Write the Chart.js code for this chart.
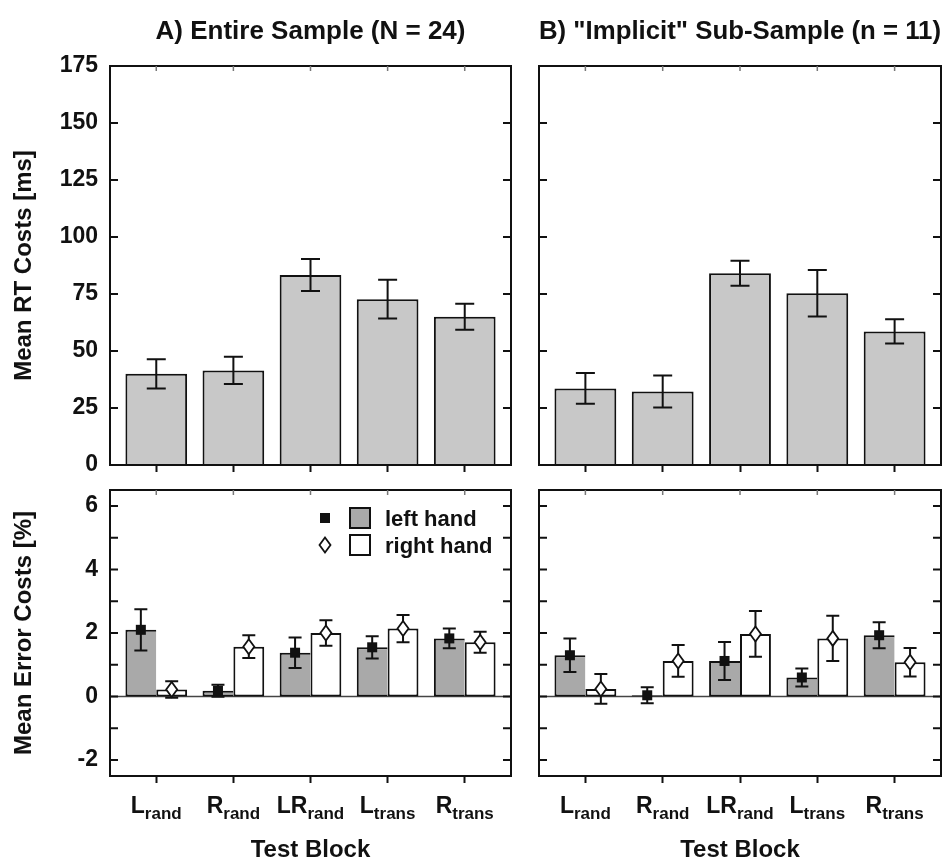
<!DOCTYPE html>
<html>
<head>
<meta charset="utf-8">
<script src="https://cdn.jsdelivr.net/npm/chart.js@4.4.0/dist/chart.umd.min.js"></script>
<style>
  body { margin: 0; background: #fff; }
  #wrap { position: relative; width: 947px; height: 866px; }
  canvas { position: absolute; }
</style>
</head>
<body>
<div id="wrap">
  <canvas id="rtA" width="525" height="480" style="left:0;top:0"></canvas>
  <canvas id="rtB" width="422" height="480" style="left:525px;top:0"></canvas>
  <canvas id="errA" width="525" height="386" style="left:0;top:480px"></canvas>
  <canvas id="errB" width="422" height="386" style="left:525px;top:480px"></canvas>
</div>
<script>
// test blocks (main letter + subscript)
const blocks = ['L', 'R', 'LR', 'L', 'R'];
const blockSubs = ['rand', 'rand', 'rand', 'trans', 'trans'];
const handNames = ['left hand', 'right hand'];
const rtTicks = [0, 25, 50, 75, 100, 125, 150, 175];
const errTicks = [-2, -1, 0, 1, 2, 3, 4, 5, 6];

// RT costs [ms] with error bar half-widths
const rtEntire = [40, 41.5, 83.3, 72.7, 65];
const rtEntireSE = [6.4, 6, 7, 8.5, 5.7];
const rtImplicit = [33.6, 32.2, 84.1, 75.3, 58.6];
const rtImplicitSE = [6.7, 7, 5.5, 10.2, 5.3];

// error costs [%]
const errEntireLeft = [2.1, 0.18, 1.38, 1.55, 1.83];
const errEntireLeftSE = [0.65, 0.19, 0.48, 0.35, 0.31];
const errEntireRight = [0.22, 1.57, 2.0, 2.14, 1.71];
const errEntireRightSE = [0.26, 0.36, 0.4, 0.43, 0.33];
const errImplicitLeft = [1.3, 0.04, 1.12, 0.6, 1.93];
const errImplicitLeftSE = [0.53, 0.25, 0.6, 0.28, 0.41];
const errImplicitRight = [0.24, 1.12, 1.97, 1.83, 1.08];
const errImplicitRightSE = [0.47, 0.5, 0.72, 0.71, 0.45];

const FONT = "'Liberation Sans', Arial, Helvetica, sans-serif";
const INK = '#111';

function drawMarker(ctx, kind, x, y) {
    ctx.save();
    if (kind === 'square') {
        ctx.fillStyle = INK;
        ctx.fillRect(x - 5, y - 5, 10, 10);
    } else if (kind === 'diamond') {
        ctx.beginPath();
        ctx.moveTo(x, y - 7.5);
        ctx.lineTo(x + 5.5, y);
        ctx.lineTo(x, y + 7.5);
        ctx.lineTo(x - 5.5, y);
        ctx.closePath();
        ctx.fillStyle = '#fff';
        ctx.fill();
        ctx.lineWidth = 1.8;
        ctx.strokeStyle = INK;
        ctx.stroke();
    }
    ctx.restore();
}

// error bars + markers on top of the bars
const errorBars = {
    id: 'errorBars',
    afterDatasetsDraw(chart, args, opts) {
        const ctx = chart.ctx, ys = chart.scales.y;
        chart.data.datasets.forEach((ds, di) => {
            const meta = chart.getDatasetMeta(di);
            meta.data.forEach((bar, i) => {
                const v = ds.data[i].y, e = ds.errors[i];
                const top = ys.getPixelForValue(v + e), bot = ys.getPixelForValue(v - e);
                const c = opts.cap / 2;
                ctx.save();
                ctx.strokeStyle = INK;
                ctx.lineWidth = 2;
                ctx.beginPath();
                ctx.moveTo(bar.x, top); ctx.lineTo(bar.x, bot);
                ctx.moveTo(bar.x - c, top); ctx.lineTo(bar.x + c, top);
                ctx.moveTo(bar.x - c, bot); ctx.lineTo(bar.x + c, bot);
                ctx.stroke();
                ctx.restore();
                if (ds.marker) drawMarker(ctx, ds.marker, bar.x, ys.getPixelForValue(v));
            });
        });
    }
};

// frame, inward ticks, zero line, subscript labels, legend
const frame = {
    id: 'frame',
    beforeDatasetsDraw(chart, args, opts) {
        if (!opts.zeroLine) return;
        const ctx = chart.ctx, a = chart.chartArea;
        const y0 = chart.scales.y.getPixelForValue(0);
        ctx.save();
        ctx.strokeStyle = '#444';
        ctx.lineWidth = 1.5;
        ctx.beginPath();
        ctx.moveTo(a.left, y0); ctx.lineTo(a.right, y0);
        ctx.stroke();
        ctx.restore();
    },
    afterDraw(chart, args, opts) {
        const ctx = chart.ctx, a = chart.chartArea;
        const xs = chart.scales.x, ys = chart.scales.y;
        ctx.save();
        ctx.strokeStyle = INK;
        ctx.lineWidth = 2;
        ctx.strokeRect(a.left, a.top, a.right - a.left, a.bottom - a.top);
        ctx.beginPath();
        ys.ticks.forEach(t => {
            const y = ys.getPixelForValue(t.value);
            ctx.moveTo(a.left, y); ctx.lineTo(a.left + 8, y);
            ctx.moveTo(a.right, y); ctx.lineTo(a.right - 8, y);
        });
        ctx.stroke();
        ctx.strokeStyle = '#777';
        ctx.lineWidth = 1.5;
        ctx.beginPath();
        xs.ticks.forEach(t => {
            const x = xs.getPixelForValue(t.value);
            ctx.moveTo(x, a.top); ctx.lineTo(x, a.top + 5);
        });
        ctx.stroke();

        if (opts.labels) {
            ctx.fillStyle = INK;
            ctx.textBaseline = 'alphabetic';
            ctx.textAlign = 'left';
            blocks.forEach((b, i) => {
                const x = xs.getPixelForValue(i);
                ctx.font = 'bold 23px ' + FONT;
                const w1 = ctx.measureText(b).width;
                ctx.font = 'bold 17px ' + FONT;
                const w2 = ctx.measureText(blockSubs[i]).width;
                const x0 = x - (w1 + w2) / 2;
                ctx.font = 'bold 23px ' + FONT;
                ctx.fillText(b, x0, a.bottom + 37);
                ctx.font = 'bold 17px ' + FONT;
                ctx.fillText(blockSubs[i], x0 + w1, a.bottom + 43);
            });
        }

        if (opts.legend) {
            const fills = ['#a9a9a9', '#fff'];
            const marks = ['square', 'diamond'];
            const rowsY = [28, 55];
            handNames.forEach((name, i) => {
                const cy = a.top + rowsY[i];
                drawMarker(ctx, marks[i], a.right - 186, cy);
                ctx.fillStyle = fills[i];
                ctx.fillRect(a.right - 161, cy - 10, 20, 20);
                ctx.strokeStyle = INK;
                ctx.lineWidth = 2;
                ctx.strokeRect(a.right - 161, cy - 10, 20, 20);
                ctx.fillStyle = INK;
                ctx.font = 'bold 22px ' + FONT;
                ctx.textBaseline = 'alphabetic';
                ctx.textAlign = 'left';
                ctx.fillText(name, a.right - 126, cy + 8);
            });
        }
        ctx.restore();
    }
};

function toPoints(values) {
    return values.map((v, i) => ({ x: i, y: v }));
}

function xScale(bottomPanel) {
    return {
        type: 'linear',
        min: -0.6,
        max: 4.6,
        offset: false,
        afterBuildTicks: s => { s.ticks = blocks.map((b, i) => ({ value: i })); },
        ticks: { display: false },
        grid: { offset: false, drawOnChartArea: false, drawTicks: true, tickLength: 7, tickWidth: 2, tickColor: INK },
        border: { display: false },
        title: {
            display: bottomPanel,
            text: 'Test Block',
            color: INK,
            font: { family: FONT, size: 24, weight: 'bold' },
            padding: { top: 0, bottom: 1 }
        },
        afterFit: s => { s.height = bottomPanel ? 90 : 15; s.paddingLeft = 0; s.paddingRight = 0; }
    };
}

function yScale(isRT, leftPanel) {
    return {
        type: 'linear',
        min: isRT ? 0 : -2.5,
        max: isRT ? 175 : 6.5,
        afterBuildTicks: s => { s.ticks = (isRT ? rtTicks : errTicks).map(v => ({ value: v })); },
        ticks: {
            display: leftPanel,
            padding: 12,
            color: INK,
            font: { family: FONT, size: 23, weight: 'bold' },
            callback: v => (isRT || v % 2 === 0) ? v : ''
        },
        grid: { display: false, drawTicks: false },
        border: { display: false },
        title: {
            display: leftPanel,
            text: isRT ? 'Mean RT Costs [ms]' : 'Mean Error Costs [%]',
            color: INK,
            font: { family: FONT, size: 24, weight: 'bold' },
            padding: { top: 10, bottom: 0 }
        },
        afterFit: s => { s.width = leftPanel ? 110 : 14; s.paddingTop = 0; s.paddingBottom = 0; }
    };
}

function rtChart(id, values, se, title, leftPanel) {
    return new Chart(document.getElementById(id), {
        type: 'bar',
        data: {
            datasets: [{
                data: toPoints(values),
                errors: se,
                backgroundColor: '#c8c8c8',
                borderColor: INK,
                borderWidth: 2,
                borderSkipped: 'start',
                categoryPercentage: 0.8,
                barPercentage: 1.0
            }]
        },
        options: {
            responsive: false,
            animation: false,
            layout: { padding: { right: leftPanel ? 14 : 6 } },
            scales: { x: xScale(false), y: yScale(true, leftPanel) },
            plugins: {
                legend: { display: false },
                tooltip: { enabled: false },
                title: {
                    display: true,
                    text: title,
                    fullSize: false,
                    color: INK,
                    font: { family: FONT, size: 26, weight: 'bold' },
                    padding: { top: 16, bottom: 18.8 }
                },
                errorBars: { cap: 19 },
                frame: {}
            }
        },
        plugins: [errorBars, frame]
    });
}

function errChart(id, left, leftSE, right, rightSE, leftPanel) {
    return new Chart(document.getElementById(id), {
        type: 'bar',
        data: {
            datasets: [{
                label: handNames[0],
                data: toPoints(left),
                errors: leftSE,
                marker: 'square',
                backgroundColor: '#a9a9a9',
                borderColor: INK,
                borderWidth: { top: 2, left: 2, bottom: 2, right: 0 },
                borderSkipped: false,
                categoryPercentage: 0.8,
                barPercentage: 1.0
            }, {
                label: handNames[1],
                data: toPoints(right),
                errors: rightSE,
                marker: 'diamond',
                backgroundColor: '#ffffff',
                borderColor: INK,
                borderWidth: 2,
                borderSkipped: false,
                categoryPercentage: 0.8,
                barPercentage: 1.0
            }]
        },
        options: {
            responsive: false,
            animation: false,
            layout: { padding: { top: 10, right: leftPanel ? 14 : 6 } },
            scales: { x: xScale(true), y: yScale(false, leftPanel) },
            plugins: {
                legend: { display: false },
                tooltip: { enabled: false },
                errorBars: { cap: 13 },
                frame: { zeroLine: true, labels: true, legend: leftPanel }
            }
        },
        plugins: [errorBars, frame]
    });
}

rtChart('rtA', rtEntire, rtEntireSE, 'A) Entire Sample (N = 24)', true);
rtChart('rtB', rtImplicit, rtImplicitSE, 'B) "Implicit" Sub-Sample (n = 11)', false);
errChart('errA', errEntireLeft, errEntireLeftSE, errEntireRight, errEntireRightSE, true);
errChart('errB', errImplicitLeft, errImplicitLeftSE, errImplicitRight, errImplicitRightSE, false);
</script>
</body>
</html>
